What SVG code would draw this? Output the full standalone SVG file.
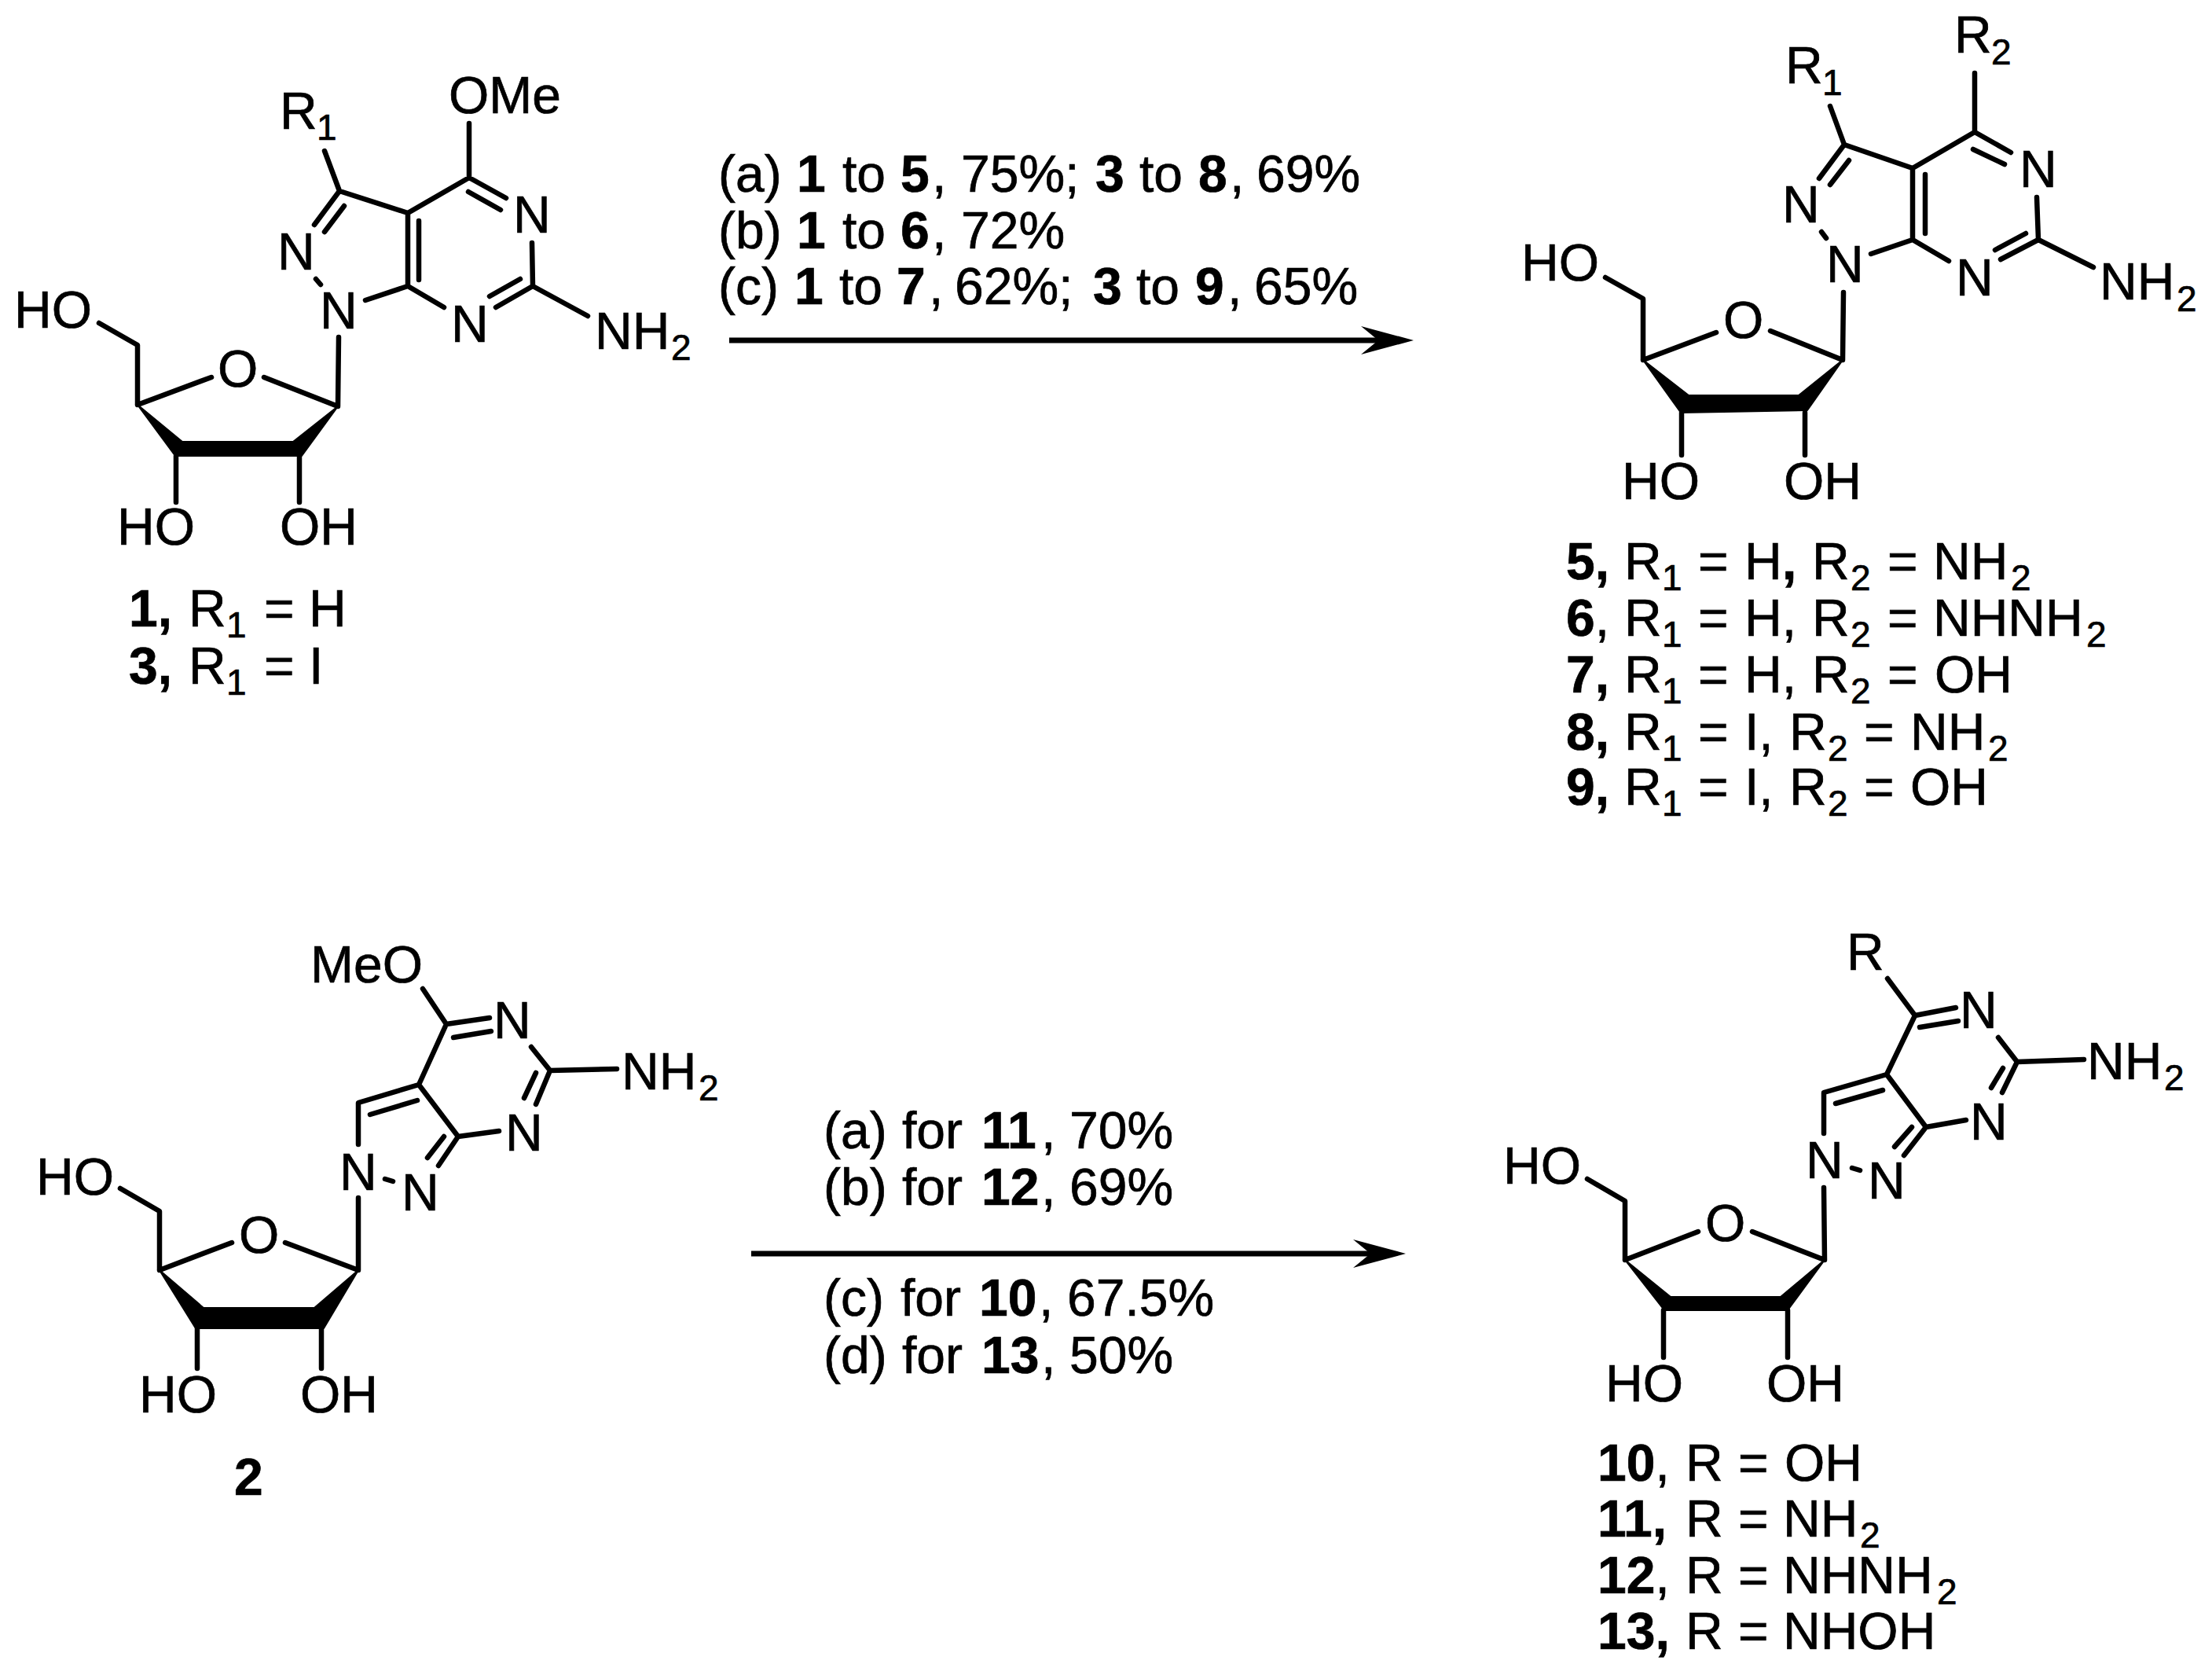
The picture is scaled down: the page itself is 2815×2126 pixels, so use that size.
<svg xmlns="http://www.w3.org/2000/svg" width="2815" height="2126" viewBox="0 0 2815 2126">
<defs>
<style>
.bond{fill:none;stroke:#000;stroke-width:6.5;stroke-linecap:round;stroke-linejoin:round}
.wedge{fill:#000;stroke:#000;stroke-width:2;stroke-linejoin:round}
.arrow{fill:none;stroke:#000;stroke-width:7}
text{font-family:"Liberation Sans",Arial,sans-serif;font-size:66px;fill:#000;stroke:#000;stroke-width:.7}
.b{font-weight:bold}
.s{font-size:46px}
</style>
<marker id="head" markerUnits="userSpaceOnUse" markerWidth="68" markerHeight="38" refX="22" refY="19" orient="auto" viewBox="0 0 68 38"><path d="M0 1L67 19L0 37L22 19Z" fill="#000"/></marker>
</defs>
<rect width="2815" height="2126" fill="#fff"/>

<g id="compound-1-3">
<path class="bond" d="M432 243L519 271L597 226L644 252M596 244L637 267M677 309L678 364L631 391M662 355L623 377M678 364L748 402M519 271V364L565 391M533 281V356M519 364L465 382M402 355L408 362M432 243L400 286M438 262L413 295M413 192L432 243M597 157V226M431 429L430 517L336 480M175 515L269 480M175 515V439L126 411M224 580V639M381 580V639"/>
<path class="wedge" d="M175 515L232 562H373L430 517L384 580H223Z"/>
<text x="353" y="343">N</text><text x="407" y="418">N</text><text x="574" y="435">N</text><text x="653" y="296">N</text>
<text x="757" y="444">NH<tspan class="s" x="854" y="458">2</tspan></text>
<text x="571" y="144">OMe</text>
<text x="356" y="164">R<tspan class="s" x="403" y="178">1</tspan></text>
<text x="277" y="492">O</text>
<text x="18" y="417">HO</text><text x="149" y="693">HO</text><text x="356" y="693">OH</text>
<text x="164" y="797"><tspan class="b">1,</tspan><tspan x="240">R</tspan><tspan class="s" x="288" y="811">1</tspan><tspan x="336" y="797">=</tspan><tspan x="393">H</tspan></text>
<text x="164" y="870"><tspan class="b">3,</tspan><tspan x="240">R</tspan><tspan class="s" x="288" y="884">1</tspan><tspan x="336" y="870">=</tspan><tspan x="393">I</tspan></text>
</g>

<g id="compound-5-9">
<path class="bond" d="M2347 184L2434 214L2513 168L2559 194M2511 190L2551 209M2592 251L2594 305L2546 330M2578 297L2539 318M2594 305L2664 340M2434 214V305L2480 332M2450 222V297M2434 305L2381 323M2318 295L2324 303M2347 184L2315 227M2353 204L2329 235M2329 135L2347 184M2513 93V168M2346 372L2345 458L2253 421M2091 458L2184 423M2091 458V380L2043 353M2140 525V579M2297 525V579"/>
<path class="wedge" d="M2091 458L2149 503L2289 503L2345 458L2300 522L2139 525Z"/>
<text x="2268" y="283">N</text><text x="2324" y="359">N</text><text x="2489" y="376">N</text><text x="2570" y="238">N</text>
<text x="2672" y="381">NH<tspan class="s" x="2770" y="396">2</tspan></text>
<text x="2487" y="67">R<tspan class="s" x="2534" y="82">2</tspan></text>
<text x="2272" y="106">R<tspan class="s" x="2319" y="121">1</tspan></text>
<text x="2193" y="430">O</text>
<text x="1936" y="357">HO</text><text x="2064" y="635">HO</text><text x="2270" y="635">OH</text>
<text x="1993" y="737"><tspan class="b">5,</tspan><tspan x="2067">R</tspan><tspan class="s" x="2115" y="751">1</tspan><tspan x="2161" y="737">=</tspan><tspan x="2220">H</tspan><tspan class="b" x="2268">,</tspan><tspan x="2306">R</tspan><tspan class="s" x="2355" y="751">2</tspan><tspan x="2402" y="737">=</tspan><tspan x="2460">NH</tspan><tspan class="s" x="2559" y="751">2</tspan></text>
<text x="1993" y="809"><tspan class="b">6</tspan><tspan>,</tspan><tspan x="2067">R</tspan><tspan class="s" x="2115" y="823">1</tspan><tspan x="2161" y="809">=</tspan><tspan x="2220">H,</tspan><tspan x="2306">R</tspan><tspan class="s" x="2355" y="823">2</tspan><tspan x="2402" y="809">=</tspan><tspan x="2460">NHNH</tspan><tspan class="s" x="2655" y="823">2</tspan></text>
<text x="1993" y="881"><tspan class="b">7,</tspan><tspan x="2067">R</tspan><tspan class="s" x="2115" y="895">1</tspan><tspan x="2161" y="881">=</tspan><tspan x="2220">H,</tspan><tspan x="2306">R</tspan><tspan class="s" x="2355" y="895">2</tspan><tspan x="2402" y="881">=</tspan><tspan x="2462">OH</tspan></text>
<text x="1993" y="954"><tspan class="b">8,</tspan><tspan x="2067">R</tspan><tspan class="s" x="2115" y="968">1</tspan><tspan x="2161" y="954">=</tspan><tspan x="2220">I,</tspan><tspan x="2277">R</tspan><tspan class="s" x="2326" y="968">2</tspan><tspan x="2372" y="954">=</tspan><tspan x="2431">NH</tspan><tspan class="s" x="2530" y="968">2</tspan></text>
<text x="1993" y="1024"><tspan class="b">9,</tspan><tspan x="2067">R</tspan><tspan class="s" x="2115" y="1038">1</tspan><tspan x="2161" y="1024">=</tspan><tspan x="2220">I,</tspan><tspan x="2277">R</tspan><tspan class="s" x="2326" y="1038">2</tspan><tspan x="2372" y="1024">=</tspan><tspan x="2431">OH</tspan></text>
</g>

<g id="compound-2">
<path class="bond" d="M538 1258L568 1303L623 1295M577 1320L625 1312M676 1332L700 1362L682 1405M682 1365L667 1397M635 1439L583 1446L533 1380L568 1303M533 1380L456 1403V1456M531 1400L471 1418M490 1500L500 1503M583 1446L558 1483M565 1446L544 1473M700 1362L785 1360M456 1524V1616L363 1581M203 1616L295 1581M203 1616V1541L153 1512M251 1690V1741M409 1690V1741"/>
<path class="wedge" d="M203 1616L259 1664H400L456 1616L412 1690H249Z"/>
<text x="395" y="1250">MeO</text>
<text x="628" y="1321">N</text><text x="643" y="1464">N</text><text x="432" y="1514">N</text><text x="511" y="1540">N</text>
<text x="791" y="1386">NH<tspan class="s" x="889" y="1400">2</tspan></text>
<text x="304" y="1594">O</text>
<text x="46" y="1520">HO</text><text x="177" y="1797">HO</text><text x="382" y="1797">OH</text>
<text class="b" x="298" y="1902">2</text>
</g>

<g id="compound-10-13">
<path class="bond" d="M2402 1245L2437 1292L2489 1282M2443 1307L2492 1299M2543 1320L2567 1351L2548 1390M2549 1359L2534 1384M2502 1425L2451 1434L2401 1367L2437 1292M2401 1367L2321 1390V1442M2396 1387L2336 1404M2357 1486L2367 1489M2451 1434L2423 1470M2433 1434L2411 1459M2567 1351L2652 1348M2321 1511L2322 1603L2230 1567M2068 1603L2161 1567M2068 1603V1528L2020 1500M2117 1667V1727M2275 1667V1727"/>
<path class="wedge" d="M2068 1603L2126 1650H2266L2322 1603L2275 1667H2118Z"/>
<text x="2350" y="1234">R</text>
<text x="2494" y="1308">N</text><text x="2507" y="1450">N</text><text x="2298" y="1499">N</text><text x="2377" y="1525">N</text>
<text x="2656" y="1373">NH<tspan class="s" x="2754" y="1387">2</tspan></text>
<text x="2170" y="1579">O</text>
<text x="1913" y="1506">HO</text><text x="2043" y="1783">HO</text><text x="2248" y="1783">OH</text>
<text x="2033" y="1884"><tspan class="b">10</tspan><tspan>,</tspan><tspan x="2145">R</tspan><tspan x="2212">=</tspan><tspan x="2271">OH</tspan></text>
<text x="2033" y="1955"><tspan class="b">11,</tspan><tspan x="2145">R</tspan><tspan x="2212">=</tspan><tspan x="2269">NH</tspan><tspan class="s" x="2367" y="1969">2</tspan></text>
<text x="2033" y="2027"><tspan class="b">12</tspan><tspan>,</tspan><tspan x="2145">R</tspan><tspan x="2212">=</tspan><tspan x="2269">NHNH</tspan><tspan class="s" x="2465" y="2041">2</tspan></text>
<text x="2033" y="2098"><tspan class="b">13,</tspan><tspan x="2145">R</tspan><tspan x="2212">=</tspan><tspan x="2269">NHOH</tspan></text>
</g>

<g id="connectors">
<line class="arrow" x1="928" y1="433" x2="1754" y2="433" marker-end="url(#head)"/>
<line class="arrow" x1="956" y1="1595" x2="1744" y2="1595" marker-end="url(#head)"/>
</g>

<g id="conditions-top">
<text x="914" y="244">(a)<tspan class="b" x="1014">1</tspan><tspan x="1072">to</tspan><tspan class="b" x="1146">5</tspan><tspan x="1186">,</tspan><tspan x="1223">75%;</tspan><tspan class="b" x="1394">3</tspan><tspan x="1450">to</tspan><tspan class="b" x="1525">8</tspan><tspan x="1565">,</tspan><tspan x="1599">69%</tspan></text>
<text x="914" y="316">(b)<tspan class="b" x="1014">1</tspan><tspan x="1072">to</tspan><tspan class="b" x="1146">6</tspan><tspan x="1186">,</tspan><tspan x="1223">72%</tspan></text>
<text x="914" y="387">(c)<tspan class="b" x="1011">1</tspan><tspan x="1068">to</tspan><tspan class="b" x="1141">7</tspan><tspan x="1182">,</tspan><tspan x="1215">62%;</tspan><tspan class="b" x="1391">3</tspan><tspan x="1446">to</tspan><tspan class="b" x="1521">9</tspan><tspan x="1562">,</tspan><tspan x="1596">65%</tspan></text>
</g>

<g id="conditions-bottom">
<text x="1048" y="1461">(a)<tspan x="1148">for</tspan><tspan class="b" x="1249">11</tspan><tspan x="1325">,</tspan><tspan x="1361">70%</tspan></text>
<text x="1048" y="1533">(b)<tspan x="1148">for</tspan><tspan class="b" x="1249">12</tspan><tspan x="1325">,</tspan><tspan x="1361">69%</tspan></text>
<text x="1048" y="1674">(c)<tspan x="1146">for</tspan><tspan class="b" x="1246">10</tspan><tspan x="1322">,</tspan><tspan x="1358">67.5%</tspan></text>
<text x="1048" y="1747">(d)<tspan x="1148">for</tspan><tspan class="b" x="1249">13</tspan><tspan x="1325">,</tspan><tspan x="1361">50%</tspan></text>
</g>
</svg>
